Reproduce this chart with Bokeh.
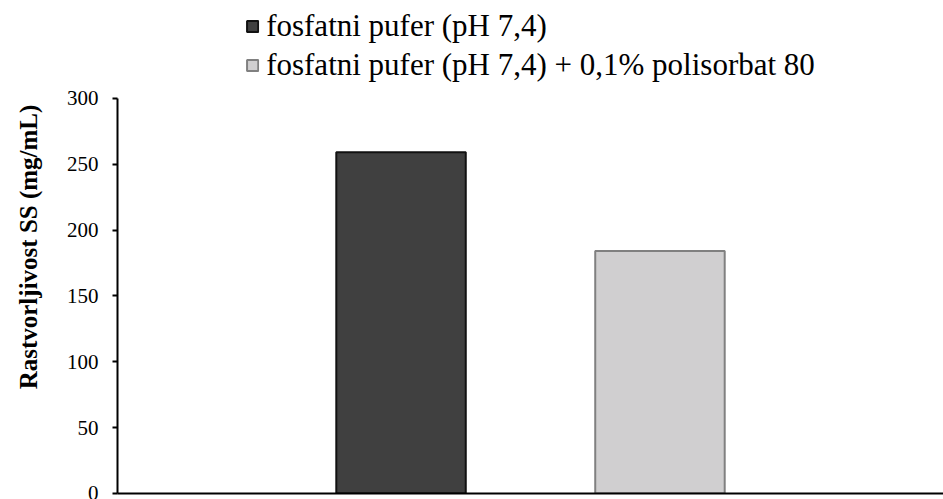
from bokeh.plotting import figure
from bokeh.models import FactorRange, ColumnDataSource, Legend, LegendItem
from bokeh.embed import file_html
from bokeh.resources import INLINE

series = ["fosfatni pufer (pH 7,4)", "fosfatni pufer (pH 7,4) + 0,1% polisorbat 80"]
values = [259, 184]
fills = ["#404040", "#d0cfd0"]
lines = ["#111111", "#808080"]
y_ticks = [0, 50, 100, 150, 200, 250, 300]

FONT = "Liberation Serif"

p = figure(width=943, height=499, output_backend="svg", toolbar_location=None,
           x_range=FactorRange(factors=series, range_padding=0.595),
           y_range=(0, 374.2))
p.min_border_left = 117
p.min_border_right = 0
p.min_border_bottom = 6
p.min_border_top = 0
p.outline_line_color = None
p.grid.visible = False
p.background_fill_color = "white"
p.border_fill_color = "white"

src = ColumnDataSource(dict(x=series, top=values, fill=fills, line=lines))
r = p.vbar(x="x", top="top", width=0.5, source=src, fill_color="fill",
           line_color="line", line_width=2)

items = [LegendItem(label=series[i], renderers=[r], index=i) for i in range(2)]
legend = Legend(items=items, location="top_center", orientation="vertical")
legend.label_text_font = FONT
legend.label_text_font_size = "31px"
legend.label_text_color = "black"
legend.glyph_width = 14
legend.glyph_height = 14
legend.label_standoff = 7
legend.spacing = 3
legend.padding = 0
legend.margin = 8
legend.border_line_color = None
legend.background_fill_alpha = 0
p.add_layout(legend, "center")

p.yaxis.ticker = y_ticks
p.yaxis.bounds = (0, 300)
p.yaxis.axis_label = "Rastvorljivost SS (mg/mL)"
p.yaxis.axis_label_text_font = FONT
p.yaxis.axis_label_text_font_style = "bold"
p.yaxis.axis_label_text_font_size = "25px"
p.yaxis.axis_label_text_color = "black"
p.yaxis.axis_label_standoff = 22
p.yaxis.major_label_text_font = FONT
p.yaxis.major_label_text_font_size = "21px"
p.yaxis.major_label_text_color = "black"
p.yaxis.major_label_standoff = 14
p.yaxis.axis_line_color = "black"
p.yaxis.axis_line_width = 2
p.yaxis.major_tick_line_color = "black"
p.yaxis.major_tick_line_width = 2
p.yaxis.major_tick_out = 5
p.yaxis.major_tick_in = 0
p.yaxis.minor_tick_line_color = None

p.xaxis.major_label_text_font_size = "1px"
p.xaxis.major_label_text_alpha = 0
p.xaxis.major_tick_line_color = None
p.xaxis.major_tick_out = 0
p.xaxis.major_tick_in = 0
p.xaxis.minor_tick_line_color = None
p.xaxis.axis_line_color = "black"
p.xaxis.axis_line_width = 2
p.xaxis.major_label_standoff = 0

open("out.html", "w").write(file_html(p, INLINE))
